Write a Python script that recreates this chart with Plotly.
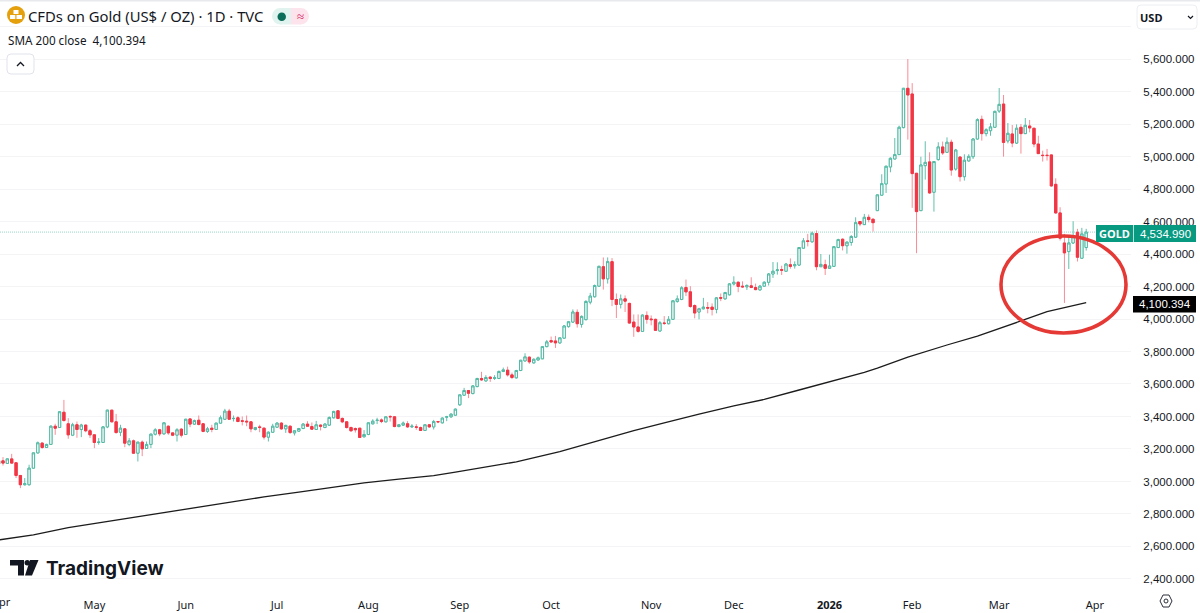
import plotly.graph_objects as go

# daily candles, first session is the clipped April one
open_px = [3109, 3127, 3111, 3139, 3115, 3037, 2980, 2980, 3082, 3176,
           3236, 3209, 3228, 3340, 3332, 3426, 3355, 3285, 3349, 3320,
           3347, 3312, 3287, 3240, 3240, 3336, 3439, 3367, 3303, 3324,
           3228, 3250, 3174, 3242, 3203, 3228, 3291, 3318, 3293, 3340,
           3299, 3285, 3322, 3289, 3385, 3353, 3377, 3355, 3308, 3328,
           3320, 3359, 3383, 3433, 3387, 3392, 3373, 3371, 3367, 3320,
           3336, 3328, 3273, 3303, 3334, 3359, 3324, 3340, 3299, 3310,
           3326, 3353, 3338, 3320, 3347, 3332, 3347, 3392, 3435, 3388,
           3367, 3332, 3326, 3328, 3275, 3289, 3355, 3375, 3379, 3367,
           3400, 3398, 3338, 3347, 3355, 3336, 3336, 3332, 3314, 3349,
           3336, 3369, 3361, 3396, 3398, 3408, 3472, 3531, 3560, 3541,
           3584, 3634, 3619, 3642, 3634, 3634, 3677, 3685, 3656, 3638,
           3683, 3742, 3765, 3730, 3748, 3755, 3830, 3867, 3865, 3853,
           3882, 3953, 3981, 4041, 3967, 3996, 4104, 4137, 4202, 4322,
           4247, 4353, 4120, 4090, 4124, 4096, 3981, 3951, 3924, 4022,
           4000, 3998, 3926, 3975, 3971, 3998, 4108, 4120, 4194, 4167,
           4083, 4043, 4063, 4071, 4073, 4059, 4132, 4124, 4149, 4216,
           4226, 4202, 4198, 4204, 4194, 4179, 4202, 4226, 4277, 4298,
           4304, 4294, 4334, 4328, 4332, 4436, 4481, 4475, 4526, 4322,
           4334, 4312, 4324, 4440, 4491, 4451, 4471, 4504, 4600, 4581,
           4626, 4614, 4667, 4762, 4831, 4936, 4985, 5012, 5178, 5420,
           5385, 4897, 4667, 4944, 4967, 4780, 4981, 5059, 5026, 5088,
           4923, 4997, 4876, 4973, 4999, 5108, 5229, 5141, 5159, 5180,
           5280, 5323, 5096, 5139, 5083, 5180, 5141, 5188, 5174, 5077,
           5008, 5008, 5010, 4829, 4653, 4468, 4415, 4468, 4534, 4374, 4440]
high_px = [3150, 3150, 3139, 3170, 3115, 3037, 3021, 3103, 3176, 3246,
           3242, 3232, 3345, 3355, 3433, 3502, 3390, 3361, 3369, 3355,
           3349, 3324, 3287, 3267, 3340, 3441, 3439, 3416, 3349, 3324,
           3267, 3258, 3242, 3252, 3246, 3295, 3328, 3324, 3365, 3345,
           3303, 3328, 3328, 3385, 3390, 3381, 3406, 3355, 3336, 3349,
           3361, 3406, 3447, 3447, 3406, 3402, 3400, 3406, 3371, 3336,
           3349, 3332, 3308, 3355, 3365, 3365, 3349, 3345, 3316, 3330,
           3359, 3371, 3363, 3373, 3351, 3359, 3400, 3435, 3437, 3394,
           3371, 3338, 3332, 3328, 3316, 3365, 3383, 3392, 3388, 3400,
           3408, 3400, 3353, 3369, 3371, 3353, 3353, 3338, 3351, 3353,
           3379, 3371, 3394, 3404, 3420, 3449, 3537, 3576, 3562, 3593,
           3638, 3675, 3654, 3648, 3654, 3683, 3701, 3707, 3670, 3687,
           3748, 3789, 3769, 3757, 3769, 3834, 3871, 3892, 3896, 3888,
           3963, 3988, 4059, 4059, 4022, 4116, 4161, 4212, 4328, 4379,
           4379, 4375, 4157, 4151, 4145, 4100, 4028, 4028, 4028, 4047,
           4022, 4002, 3988, 4018, 4018, 4116, 4145, 4202, 4243, 4202,
           4090, 4069, 4130, 4104, 4096, 4134, 4157, 4167, 4220, 4263,
           4232, 4232, 4214, 4257, 4218, 4210, 4232, 4283, 4351, 4349,
           4328, 4345, 4373, 4355, 4443, 4498, 4524, 4538, 4545, 4400,
           4365, 4396, 4449, 4494, 4496, 4477, 4516, 4626, 4600, 4647,
           4643, 4620, 4764, 4891, 4944, 4995, 5114, 5190, 5422, 5600,
           5452, 4897, 4999, 5094, 5026, 4971, 5088, 5092, 5118, 5104,
           5047, 5001, 5014, 5014, 5112, 5235, 5252, 5174, 5206, 5282,
           5422, 5379, 5206, 5194, 5198, 5200, 5237, 5225, 5176, 5128,
           5036, 5047, 5012, 4866, 4688, 4524, 4513, 4602, 4555, 4561, 4555]
low_px = [3088, 3098, 3109, 3109, 3021, 2959, 2975, 2975, 3078, 3172,
          3201, 3207, 3226, 3287, 3330, 3369, 3263, 3279, 3269, 3273,
          3303, 3267, 3205, 3226, 3240, 3328, 3365, 3295, 3279, 3211,
          3217, 3170, 3123, 3156, 3201, 3205, 3283, 3279, 3289, 3287,
          3279, 3246, 3271, 3289, 3334, 3349, 3345, 3303, 3299, 3303,
          3318, 3355, 3381, 3379, 3369, 3365, 3345, 3340, 3303, 3314,
          3303, 3258, 3246, 3299, 3332, 3318, 3299, 3293, 3283, 3308,
          3322, 3338, 3318, 3318, 3314, 3328, 3342, 3388, 3383, 3359,
          3326, 3306, 3301, 3267, 3271, 3285, 3351, 3353, 3359, 3365,
          3369, 3334, 3334, 3342, 3330, 3330, 3318, 3312, 3312, 3330,
          3320, 3359, 3357, 3371, 3392, 3404, 3465, 3527, 3513, 3537,
          3580, 3619, 3615, 3613, 3625, 3630, 3673, 3646, 3630, 3634,
          3679, 3738, 3724, 3726, 3744, 3753, 3826, 3855, 3822, 3847,
          3877, 3947, 3977, 3947, 3947, 3992, 4090, 4132, 4198, 4181,
          4218, 4079, 4006, 4065, 4043, 3971, 3890, 3916, 3920, 3971,
          3961, 3928, 3924, 3963, 3967, 3994, 4100, 4116, 4141, 4069,
          4004, 3998, 4059, 4035, 4022, 4035, 4110, 4120, 4145, 4206,
          4165, 4192, 4179, 4190, 4177, 4175, 4198, 4206, 4253, 4273,
          4271, 4292, 4310, 4310, 4328, 4432, 4447, 4471, 4300, 4320,
          4271, 4310, 4320, 4436, 4422, 4402, 4451, 4500, 4571, 4581,
          4595, 4538, 4665, 4757, 4776, 4903, 4983, 5010, 5174, 5104,
          4684, 4405, 4667, 4858, 4770, 4661, 4975, 5010, 5022, 4882,
          4913, 4846, 4852, 4969, 4985, 5104, 5098, 5124, 5128, 5176,
          5268, 4999, 5081, 5057, 5077, 5018, 5139, 5149, 5057, 5016,
          4969, 4975, 4815, 4647, 4483, 4099, 4308, 4462, 4354, 4374, 4421]
close_px = [3127, 3113, 3139, 3113, 3037, 2980, 2986, 3082, 3176, 3238,
            3209, 3228, 3340, 3328, 3429, 3375, 3287, 3349, 3320, 3347,
            3312, 3287, 3240, 3242, 3336, 3439, 3367, 3301, 3328, 3236,
            3250, 3174, 3242, 3201, 3228, 3291, 3318, 3293, 3361, 3299,
            3285, 3318, 3285, 3383, 3353, 3375, 3351, 3308, 3324, 3320,
            3359, 3392, 3433, 3383, 3388, 3369, 3371, 3367, 3324, 3332,
            3332, 3273, 3303, 3340, 3359, 3324, 3345, 3301, 3312, 3326,
            3353, 3340, 3322, 3349, 3340, 3353, 3394, 3431, 3388, 3367,
            3332, 3312, 3318, 3271, 3289, 3361, 3371, 3377, 3369, 3398,
            3398, 3338, 3349, 3359, 3336, 3340, 3334, 3314, 3349, 3336,
            3369, 3367, 3390, 3398, 3414, 3445, 3533, 3560, 3543, 3588,
            3634, 3625, 3640, 3634, 3638, 3677, 3687, 3656, 3640, 3683,
            3746, 3767, 3736, 3752, 3761, 3830, 3859, 3859, 3853, 3884,
            3957, 3983, 4043, 3971, 4016, 4108, 4141, 4206, 4324, 4247,
            4353, 4120, 4090, 4124, 4110, 3975, 3951, 3924, 4024, 3998,
            3996, 3930, 3977, 3973, 3998, 4112, 4124, 4192, 4167, 4077,
            4037, 4063, 4073, 4067, 4059, 4130, 4128, 4163, 4216, 4226,
            4200, 4198, 4206, 4194, 4181, 4202, 4226, 4277, 4294, 4302,
            4300, 4338, 4324, 4334, 4440, 4481, 4477, 4528, 4322, 4336,
            4312, 4326, 4445, 4489, 4451, 4473, 4508, 4593, 4585, 4626,
            4612, 4593, 4764, 4833, 4940, 4989, 5012, 5180, 5420, 5379,
            4895, 4661, 4948, 4964, 4776, 4969, 5059, 5022, 5088, 4917,
            5040, 4876, 4977, 5001, 5108, 5227, 5141, 5165, 5182, 5278,
            5321, 5087, 5143, 5083, 5174, 5141, 5192, 5176, 5077, 5018,
            5006, 5006, 4819, 4653, 4497, 4407, 4468, 4507, 4380, 4524, 4534.99]

sma_session = [0, 8, 16, 23, 31, 39, 46, 54, 61, 69, 77, 84, 92, 100, 105, 111, 119, 129, 138, 146, 153,
               161, 169, 176, 184, 192, 199, 202, 209, 218, 225, 235, 241, 250]
sma_value = [2640, 2671, 2716, 2746, 2780, 2812, 2841, 2876, 2905, 2935, 2964, 2991, 3015, 3036, 3057, 3086, 3121,
             3183, 3252, 3313, 3360, 3415, 3465, 3505, 3563, 3620, 3671, 3697, 3766, 3840, 3895, 3988, 4045, 4100.394]

price_ticks = list(range(2400, 5801, 200))
month_sessions = [22, 43, 64, 85, 106, 127, 150, 169, 191, 210, 230, 252]
month_labels = ['May', 'Jun', 'Jul', 'Aug', 'Sep', 'Oct', 'Nov', 'Dec', '<b>2026</b>', 'Feb', 'Mar', 'Apr']

FONT = 'Noto Sans'
NUM_FONT = 'Liberation Sans'
INK = '#131722'
UP = '#52b9a4'
DOWN = '#f23645'
PLOT_W = 1131
PLOT_TOP = 3
PLOT_BOT = 590


def px(x):
    return x / PLOT_W


def py(y):
    return (PLOT_BOT - y) / (PLOT_BOT - PLOT_TOP)


def box(x0, y0, x1, y1, **kw):
    return dict(type='rect', xref='paper', yref='paper', x0=px(x0), x1=px(x1), y0=py(y0), y1=py(y1), **kw)


def dot(x0, y0, x1, y1, **kw):
    return dict(type='circle', xref='paper', yref='paper', x0=px(x0), x1=px(x1), y0=py(y0), y1=py(y1), **kw)


def round_box(x0, y0, x1, y1, r, **kw):
    path = (f'M {px(x0 + r)} {py(y0)} L {px(x1 - r)} {py(y0)} Q {px(x1)} {py(y0)} {px(x1)} {py(y0 + r)} '
            f'L {px(x1)} {py(y1 - r)} Q {px(x1)} {py(y1)} {px(x1 - r)} {py(y1)} '
            f'L {px(x0 + r)} {py(y1)} Q {px(x0)} {py(y1)} {px(x0)} {py(y1 - r)} '
            f'L {px(x0)} {py(y0 + r)} Q {px(x0)} {py(y0)} {px(x0 + r)} {py(y0)} Z')
    return dict(type='path', xref='paper', yref='paper', path=path, **kw)


def label(x, y, text, size=12, color=INK, anchor='left', family=FONT, **kw):
    # annotations carry about 2px of padding
    shift = {'left': -2, 'right': 2, 'center': 0}[anchor]
    return dict(xref='paper', yref='paper', x=px(x + shift), y=py(y), text=text, showarrow=False, xanchor=anchor,
                yanchor='middle', font=dict(family=family, size=size, color=color), **kw)


sessions = list(range(len(close_px)))
fig = go.Figure()

# wicks are paler than the bodies, so they get their own trace underneath
fig.add_trace(go.Candlestick(x=sessions, open=open_px, high=high_px, low=low_px, close=close_px,
                             whiskerwidth=0,
                             increasing=dict(line=dict(color='#62bfac', width=1), fillcolor='white'),
                             decreasing=dict(line=dict(color='#f88d97', width=1), fillcolor=DOWN)))
fig.add_trace(go.Candlestick(x=sessions, open=open_px, close=close_px,
                             high=[max(o, c) for o, c in zip(open_px, close_px)],
                             low=[min(o, c) for o, c in zip(open_px, close_px)],
                             whiskerwidth=0,
                             increasing=dict(line=dict(color=UP, width=1), fillcolor='white'),
                             decreasing=dict(line=dict(color=DOWN, width=1), fillcolor=DOWN)))
fig.add_trace(go.Scatter(x=sma_session, y=sma_value, mode='lines', line=dict(color='#1c1c1c', width=1.3)))

shapes = [
    # last price
    dict(type='line', xref='paper', yref='y', x0=0, x1=px(1096), y0=close_px[-1], y1=close_px[-1], layer='below',
         line=dict(color='#9ad6c9', width=1, dash='1px,1px')),
    # red hand drawn ring
    dot(1001, 236, 1126, 333, line=dict(color='#e53935', width=3.6)),
    # top strip and chrome
    box(0, -3, 1200, 1.5, fillcolor='#e8e9ec', line_width=0),
    box(1096, 225, 1133, 242, fillcolor='#089981', line_width=0),
    box(1133.7, 225, 1196, 242, fillcolor='#089981', line_width=0),
    box(1133, 296, 1196, 312.5, fillcolor='#000000', line_width=0),
    round_box(1137, 5, 1197, 29, 4, fillcolor='white', line=dict(color='#eceef2', width=1)),
    round_box(7, 54, 34, 74, 4, fillcolor='white', line=dict(color='#e0e3eb', width=1)),
    # gold badge
    dot(7, 6, 25, 24, fillcolor='#e5a00d', line_width=0),
    box(13.5, 10, 18.5, 14, fillcolor='white', line_width=0),
    box(10, 15, 15.3, 19, fillcolor='white', line_width=0),
    box(16.5, 15, 22, 19, fillcolor='white', line_width=0),
    # status pill
    dot(272, 8, 288, 24.5, fillcolor='#e0f3ef', line_width=0),
    dot(293, 8, 309, 24.5, fillcolor='#fde4ec', line_width=0),
    box(280, 8, 291, 24.5, fillcolor='#e0f3ef', line_width=0),
    box(291, 8, 301, 24.5, fillcolor='#fde4ec', line_width=0),
    dot(277.5, 12.5, 286, 21, fillcolor='#0b6e5a', line_width=0),
    # TradingView mark
    box(10, 560, 24, 565.5, fillcolor='#131722', line_width=0),
    box(18, 560, 24, 575.5, fillcolor='#131722', line_width=0),
    dict(type='path', xref='paper', yref='paper', fillcolor='#131722', line_width=0,
         path=f'M {px(30)} {py(560)} L {px(38.5)} {py(560)} L {px(32)} {py(575.5)} L {px(25)} {py(575.5)} Z'),
    dot(24.5, 560, 30, 565.5, fillcolor='#131722', line_width=0),
    # settings gear
    dict(type='path', xref='paper', yref='paper', line=dict(color='#2a2e39', width=1),
         path=f'M {px(1160)} {py(601)} L {px(1163)} {py(595)} L {px(1169)} {py(595)} L {px(1172)} {py(601)} '
              f'L {px(1169)} {py(607)} L {px(1163)} {py(607)} Z'),
    dot(1164, 599, 1168, 603, line=dict(color='#2a2e39', width=1)),
    # chevrons
    dict(type='path', xref='paper', yref='paper', line=dict(color='#131722', width=1.3),
         path=f'M {px(17)} {py(66)} L {px(20.5)} {py(62.5)} L {px(24)} {py(66)}'),
    dict(type='path', xref='paper', yref='paper', line=dict(color='#131722', width=1.2),
         path=f'M {px(1188)} {py(16)} L {px(1190.5)} {py(18.5)} L {px(1193)} {py(16)}'),
]

annotations = [
    label(28, 16.5, 'CFDs on Gold (US$ / OZ) · 1D · TVC', size=14.8),
    label(7.5, 40, 'SMA 200 close&nbsp;&nbsp;4,100.394', size=11.7),
    label(300.5, 16, '≈', size=13, color='#d81b60', anchor='center'),
    label(1140, 17, '<b>USD</b>', size=11),
    label(46, 568, '<b>TradingView</b>', size=19, color='#131722', family='Inter'),
    label(11.5, 601.5, 'Apr', size=11, anchor='right'),
    label(1114.5, 233.5, '<b>GOLD</b>', size=11, color='white', anchor='center'),
    label(1165, 233.5, f'{close_px[-1]:,.3f}', size=11.5, color='white', anchor='center', family=NUM_FONT),
    label(1165, 304, f'{sma_value[-1]:,.3f}', size=11.5, color='white', anchor='center', family=NUM_FONT),
]

fig.update_layout(
    width=1200, height=613,
    margin=dict(l=0, r=1200 - PLOT_W, t=PLOT_TOP, b=613 - PLOT_BOT),
    paper_bgcolor='white', plot_bgcolor='white',
    showlegend=False, boxgap=0.25,
    font=dict(family=FONT, size=12, color=INK),
    shapes=shapes, annotations=annotations,
    xaxis=dict(range=[0.31, 260.3], rangeslider_visible=False, showgrid=False, zeroline=False, showline=False,
               tickmode='array', tickvals=month_sessions, ticktext=month_labels, ticks='outside', ticklen=5,
               tickcolor='white', tickfont=dict(size=11, color=INK)),
    yaxis=dict(range=[2332, 5945], side='right', showgrid=True, gridcolor='#f4f4f6', gridwidth=1, zeroline=False,
               showline=False, tickmode='array', tickvals=price_ticks,
               ticktext=[f'{p:,.3f}' if p < 5800 else '' for p in price_ticks],
               ticks='outside', ticklen=9, tickcolor='white', tickfont=dict(family=NUM_FONT, size=11.5, color=INK)),
)

fig.write_html("out.html", config=dict(displayModeBar=False),
               post_script="document.body.style.margin='0';document.body.style.overflow='hidden';")
